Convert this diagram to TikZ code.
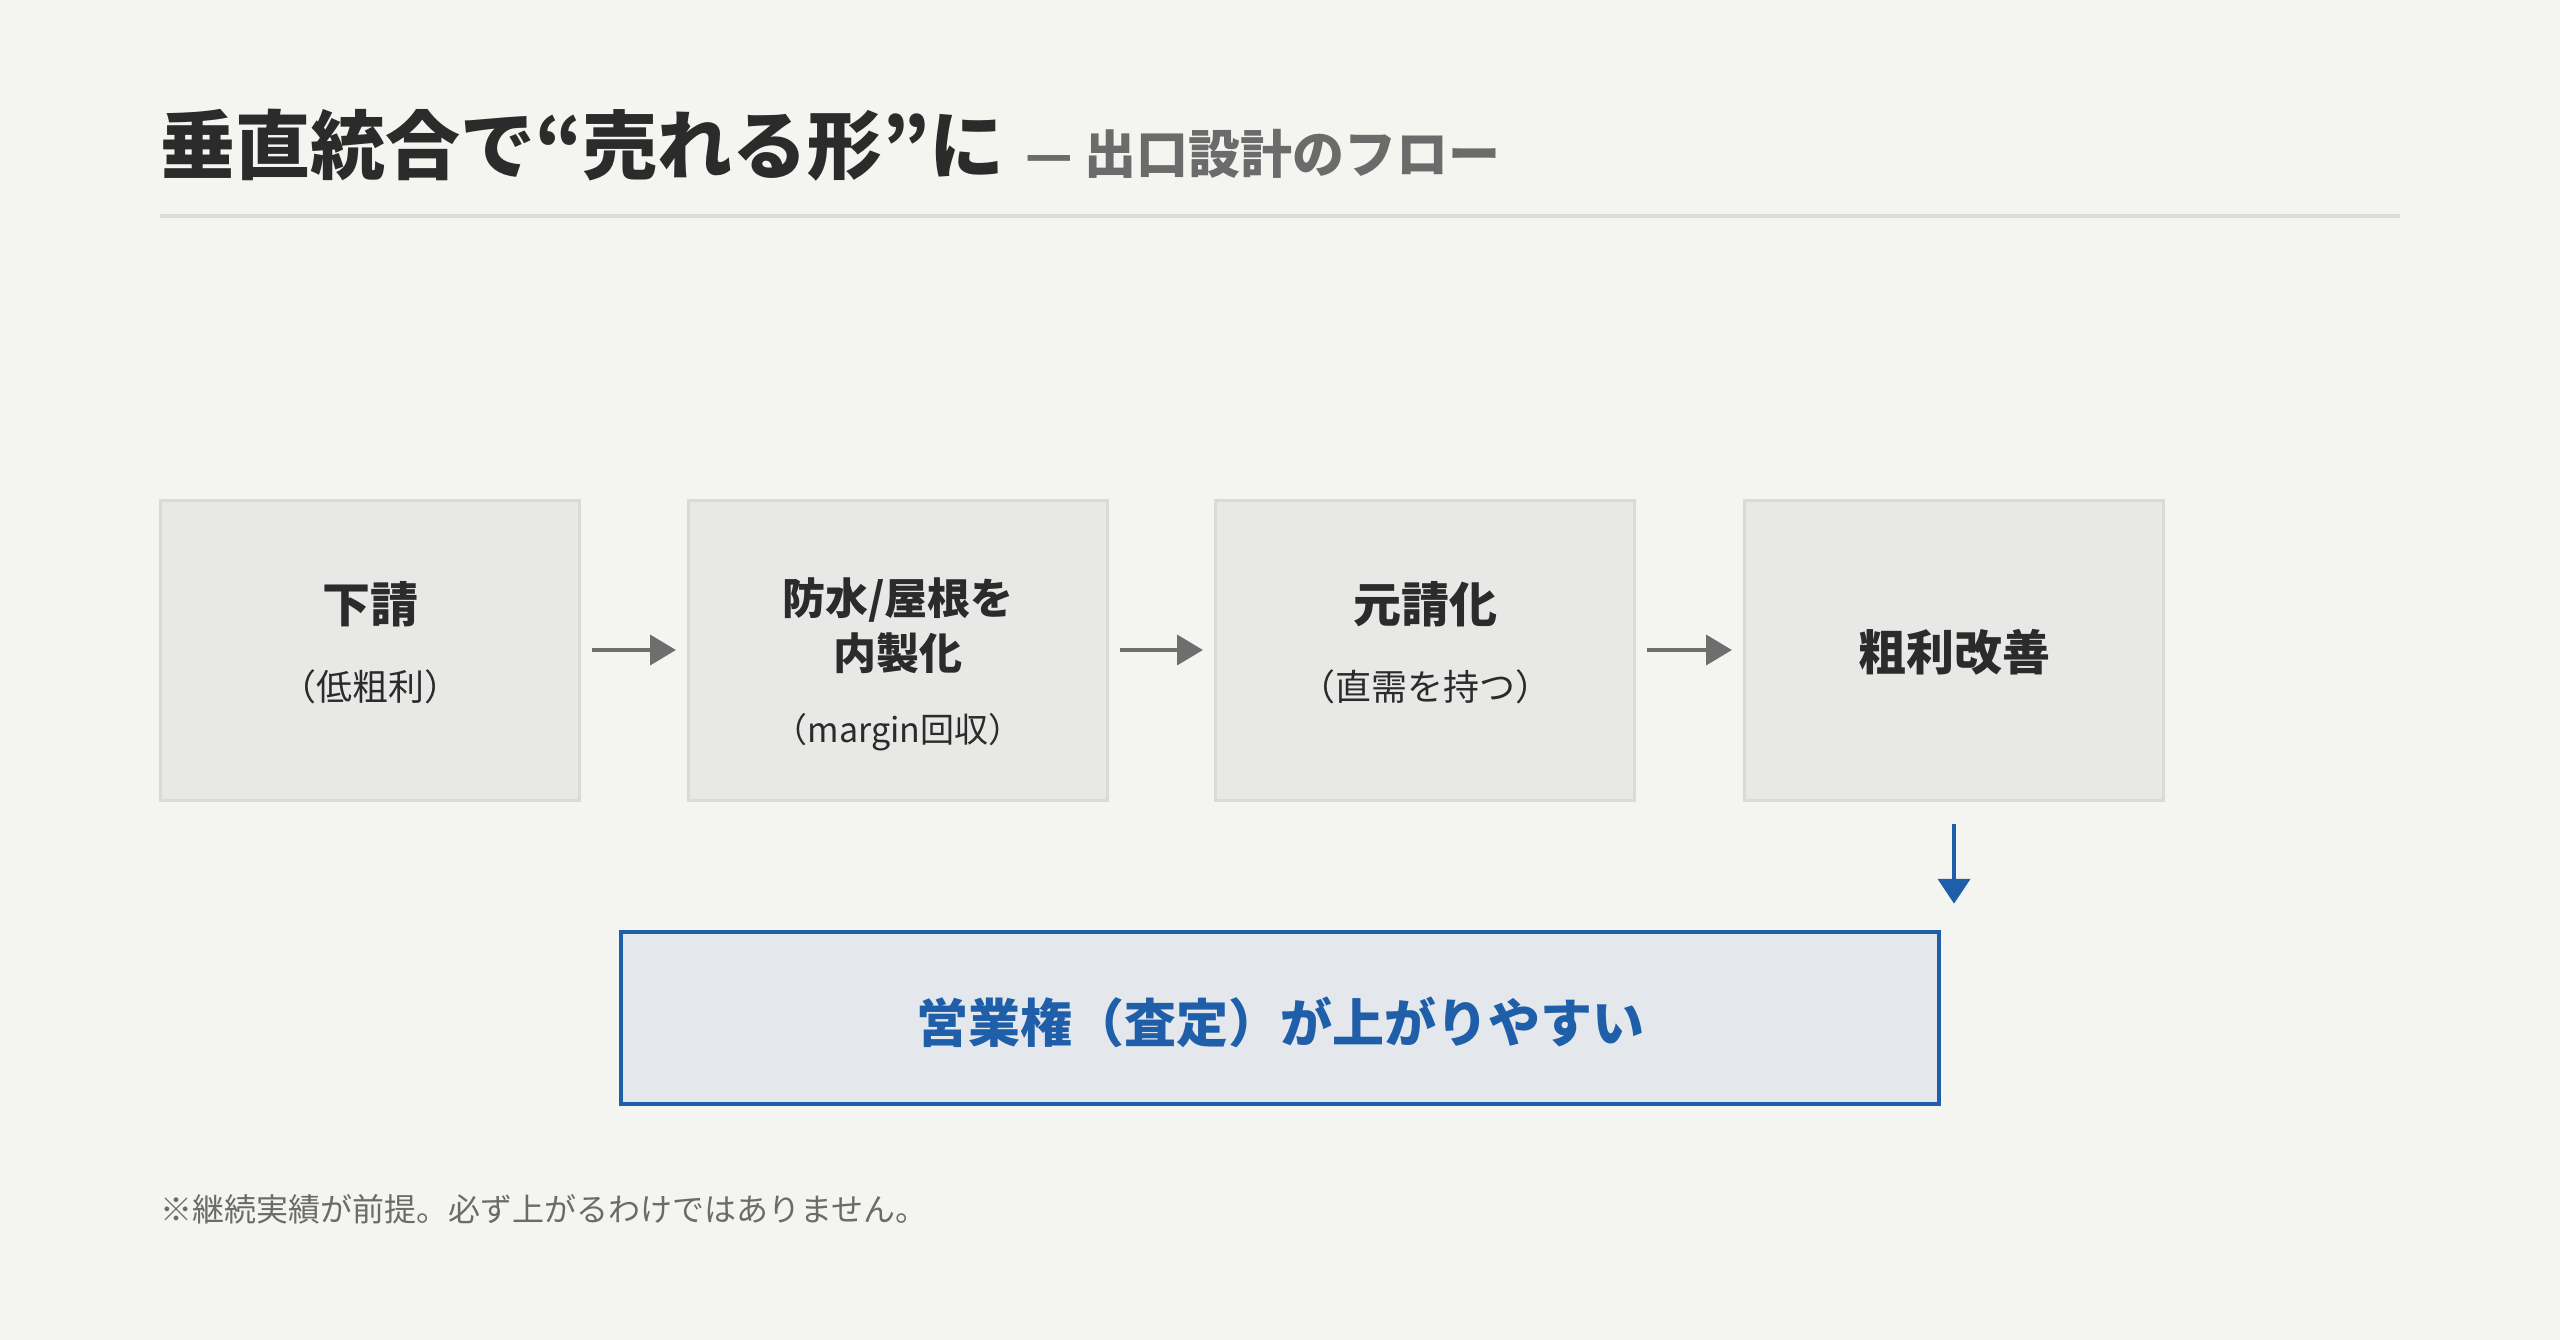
\documentclass[tikz,border=0pt]{standalone}
\usepackage{fontspec}
\setmainfont{Noto Sans CJK JP}
\usetikzlibrary{arrows.meta}
\definecolor{bg}{HTML}{F4F5F1}
\definecolor{ink}{HTML}{2B2B2B}
\definecolor{subink}{HTML}{6B6B6B}
\definecolor{boxfill}{HTML}{E8E8E6}
\definecolor{boxline}{HTML}{DADAD8}
\definecolor{arrowgray}{HTML}{6E6E6E}
\definecolor{accent}{HTML}{1F5EA8}
\definecolor{accentfill}{HTML}{E4E8EC}
\definecolor{rule}{HTML}{DCDCD8}
\newcommand{\fs}[1]{\fontsize{#1}{#1}\selectfont}
\tikzset{
  stepbox/.style={draw=boxline, line width=3pt, fill=boxfill, minimum width=419pt, minimum height=300pt, inner sep=0pt},
  boxtitle/.style={anchor=base, text=ink, font=\fs{48}\bfseries, inner sep=0pt},
  boxsub/.style={anchor=base, text=ink, font=\fs{36}, inner sep=0pt},
  flowarrow/.style={draw=arrowgray, line width=4pt, -{Triangle[length=26pt,width=30pt]}, shorten <=11pt, shorten >=11pt},
  downarrow/.style={draw=accent, line width=4.5pt, -{Triangle[length=25pt,width=32pt]}, shorten <=22pt, shorten >=26pt},
  resultbox/.style={draw=accent, line width=4.5pt, fill=accentfill, minimum width=1318pt, minimum height=172pt, inner sep=0pt},
}
\begin{document}
\begin{tikzpicture}[x=1pt,y=-1pt]
\fill[bg] (0,0) rectangle (2560,1340);
\useasboundingbox (0,0) rectangle (2560,1340);
% title
\node[anchor=base west, inner sep=0pt, text=ink, font=\fs{75}\bfseries] (title) at (160,174) {垂直統合で“売れる形”に};
\node[anchor=base west, inner sep=0pt, text=subink, font=\fs{52}\bfseries] (subtitle) at ([xshift=20pt]title.base east) {— 出口設計のフロー};
\coordinate (ruleL) at (160,216);
\coordinate (ruleR) at (2400,216);
\draw[rule, line width=4pt] (ruleL) -- (ruleR);
% boxes
\node[stepbox] (b1) at (370,650) {};
\node[stepbox] (b2) at (898,650) {};
\node[stepbox] (b3) at (1425,650) {};
\node[stepbox] (b4) at (1954,650) {};
% box texts
\node[boxtitle] (t1) at (370,622) {下請};
\node[boxsub] (s1) at (370,700) {（低粗利）};
\node[boxtitle, font=\fs{43}\bfseries] (t2a) at (898,614) {防水/屋根を};
\node[boxtitle, font=\fs{43}\bfseries] (t2b) at (898,669) {内製化};
\node[boxsub, font=\fs{34}] (s2) at (898,742) {（margin回収）};
\node[boxtitle] (t3) at (1425,622) {元請化};
\node[boxsub] (s3) at (1425,700) {（直需を持つ）};
\node[boxtitle] (t4) at (1954,670) {粗利改善};
% arrows
\draw[flowarrow] (b1.east) -- (b2.west);
\draw[flowarrow] (b2.east) -- (b3.west);
\draw[flowarrow] (b3.east) -- (b4.west);
% result
\node[resultbox] (res) at (1280,1018) {};
\node[anchor=base, inner sep=0pt, text=accent, font=\fs{52}\bfseries] (restext) at (1280,1042) {営業権（査定）が上がりやすい};
\draw[downarrow] (b4.south) -- (b4.south |- res.north);
% footnote
\node[anchor=base west, inner sep=0pt, text=subink, font=\fs{32}] (note) at (160,1221) {※継続実績が前提。必ず上がるわけではありません。};
\end{tikzpicture}
\end{document}
